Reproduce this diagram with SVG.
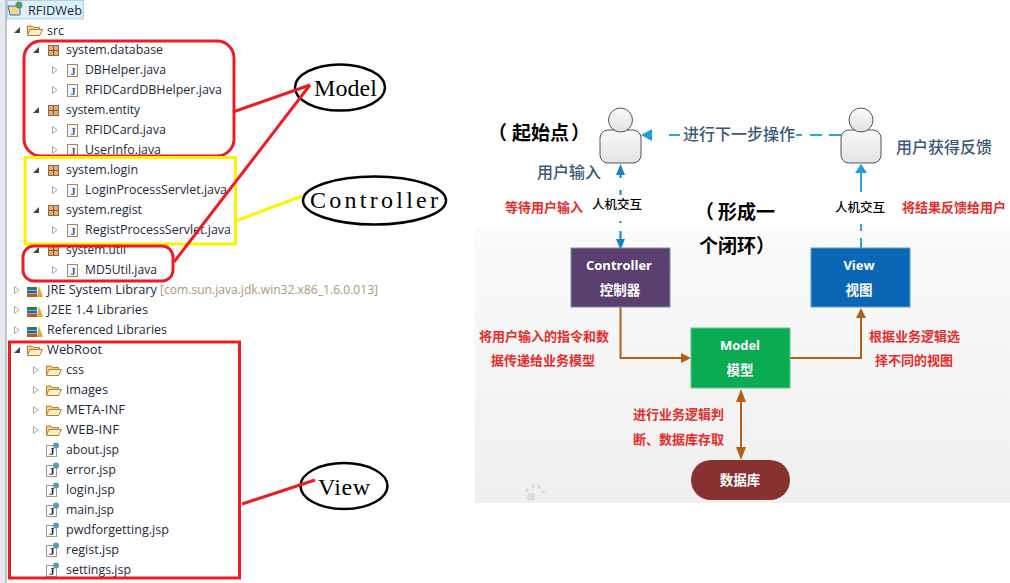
<svg xmlns="http://www.w3.org/2000/svg" xmlns:xlink="http://www.w3.org/1999/xlink" width="1010" height="583" viewBox="0 0 1010 583">
<style>
.t{font:13px "Open Sans","Liberation Sans","Noto Sans",sans-serif;fill:#1d2b3a}
.g{font:13px "Open Sans","Liberation Sans",sans-serif;fill:#a89a78}
.m{font:24px "Liberation Serif",serif;fill:#000}
.r{font:bold 13px "Noto Sans CJK SC",sans-serif;fill:#e62b2b}
.b{font:16px "Noto Sans CJK SC",sans-serif;fill:#3b5877;font-weight:500}
.k{font:bold 19px "Noto Sans CJK SC",sans-serif;fill:#000}
.h{font:12.5px "Noto Sans CJK SC",sans-serif;fill:#000;font-weight:500}
.w{font:bold 13.5px "Noto Sans CJK SC",sans-serif;fill:#fff;text-anchor:middle}
.e{font:bold 13px "Open Sans","Liberation Sans",sans-serif;fill:#fff;text-anchor:middle}
.rl{fill:none;stroke:#ed1c24;stroke-width:3}
.yl{fill:none;stroke:#fff200;stroke-width:3}
.ell{fill:#fff;stroke:#000;stroke-width:2.5}
.br{fill:none;stroke:#b45f17;stroke-width:2}
.cy{fill:none;stroke:#2fa6d9;stroke-width:2}
.bl{fill:none;stroke:#1583c2;stroke-width:2}
.arrT{fill:#444;stroke:none}
.arrO{fill:#fff;stroke:#a8a8a8;stroke-width:1}
.pk{fill:#dcae7e;stroke:#9a6a3c;stroke-width:1}
.pkl{stroke:#8a5a2c;stroke-width:1}
.fb{fill:#f3cf8a;stroke:#b5802f;stroke-width:1}
.ff{fill:#fdf0c8;stroke:#b5802f;stroke-width:1}
.jf{fill:#f4f6fb;stroke:#a58a55;stroke-width:1}
.jt{font:bold 10px "Liberation Serif",serif;fill:#2a5aa0}
.person{fill:url(#pg);stroke:#555;stroke-width:1}
</style>
<defs>
<linearGradient id="pg" x1="0" y1="0" x2="0" y2="1"><stop offset="0" stop-color="#fafafa"/><stop offset="1" stop-color="#e2e2e2"/></linearGradient>
<linearGradient id="bg" x1="0" y1="0" x2="0" y2="1"><stop offset="0" stop-color="#fbfbfb"/><stop offset="1" stop-color="#efefef"/></linearGradient>
<g id="pkg"><rect x="0.500" y="0.500" width="10" height="10" class="pk"/><path d="M5.500 0.500V10.500M0.500 5.500H10.500" class="pkl"/></g>
<g id="jv"><rect x="0.500" y="0.500" width="10" height="12" class="jf"/><text x="3.500" y="10.500" class="jt">J</text></g>
<path id="opn" d="M0.500 0.500L5 4L0.500 7.500Z" class="arrO"/>
<path id="cls" d="M6 0V6H0Z" class="arrT"/>
<g id="fld"><path d="M0.500 10V2H5L6.500 3.500H12.500V10Z" class="fb"/><path d="M0.500 11.500L3 5.500H15.500L12.500 11.500Z" class="ff"/></g>
<g id="jsp"><rect x="0.500" y="3.500" width="10" height="11" fill="#fff" stroke="#a09a80"/><text x="3" y="13" font-family="Liberation Serif" font-weight="bold" font-size="11" fill="#1d2b50">J</text><circle cx="10" cy="3.500" r="3" fill="#5a9ab0"/></g>
<g id="lib"><rect x="0" y="4" width="10" height="3" fill="#2d7d4f"/><rect x="0" y="7.500" width="10" height="3" fill="#2a5aa0"/><rect x="0" y="11" width="10" height="3" fill="#c0591f"/><path d="M10 14L12 3L16 14Z" fill="#e5a83a"/></g>
</defs>

<g id="tree">
<rect x="0" y="0" width="5" height="583" fill="#e6eaef"/>
<rect x="5" y="0" width="2" height="583" fill="#bcc6d2"/>
<rect x="7.500" y="0.500" width="76" height="18.500" fill="#dcf0f9" stroke="#aed2e4"/>
<path d="M8 6H18L20 8V15H10Z" fill="#f4d68a" stroke="#3f6fa8"/>
<circle cx="19" cy="5" r="3.500" fill="#5a9a6a"/>
<text x="28" y="15" class="t" textLength="54" lengthAdjust="spacingAndGlyphs">RFIDWeb</text>
<use xlink:href="#cls" x="14" y="27"/><use xlink:href="#fld" x="27" y="24"/><text x="47" y="35" class="t" textLength="17" lengthAdjust="spacingAndGlyphs">src</text>

<use xlink:href="#cls" x="33" y="47"/><use xlink:href="#pkg" x="48" y="45"/><text x="66" y="54" class="t" textLength="97" lengthAdjust="spacingAndGlyphs">system.database</text>
<use xlink:href="#opn" x="52" y="66"/><use xlink:href="#jv" x="67" y="64"/><text x="85" y="74" class="t" textLength="81" lengthAdjust="spacingAndGlyphs">DBHelper.java</text>
<use xlink:href="#opn" x="52" y="86"/><use xlink:href="#jv" x="67" y="84"/><text x="85" y="94" class="t" textLength="137" lengthAdjust="spacingAndGlyphs">RFIDCardDBHelper.java</text>
<use xlink:href="#cls" x="33" y="107"/><use xlink:href="#pkg" x="48" y="105"/><text x="66" y="114" class="t" textLength="74" lengthAdjust="spacingAndGlyphs">system.entity</text>
<use xlink:href="#opn" x="52" y="126"/><use xlink:href="#jv" x="67" y="124"/><text x="85" y="134" class="t" textLength="81" lengthAdjust="spacingAndGlyphs">RFIDCard.java</text>
<use xlink:href="#opn" x="52" y="146"/><use xlink:href="#jv" x="67" y="144"/><text x="85" y="154" class="t" textLength="76" lengthAdjust="spacingAndGlyphs">UserInfo.java</text>
<use xlink:href="#cls" x="33" y="167"/><use xlink:href="#pkg" x="48" y="165"/><text x="66" y="174" class="t" textLength="72" lengthAdjust="spacingAndGlyphs">system.login</text>
<use xlink:href="#opn" x="52" y="186"/><use xlink:href="#jv" x="67" y="184"/><text x="85" y="194" class="t" textLength="142" lengthAdjust="spacingAndGlyphs">LoginProcessServlet.java</text>
<use xlink:href="#cls" x="33" y="207"/><use xlink:href="#pkg" x="48" y="205"/><text x="66" y="214" class="t" textLength="76" lengthAdjust="spacingAndGlyphs">system.regist</text>
<use xlink:href="#opn" x="52" y="226"/><use xlink:href="#jv" x="67" y="224"/><text x="85" y="234" class="t" textLength="146" lengthAdjust="spacingAndGlyphs">RegistProcessServlet.java</text>
<use xlink:href="#cls" x="33" y="247"/><use xlink:href="#pkg" x="48" y="245"/><text x="66" y="254" class="t" textLength="60" lengthAdjust="spacingAndGlyphs">system.util</text>
<use xlink:href="#opn" x="52" y="266"/><use xlink:href="#jv" x="67" y="264"/><text x="85" y="274" class="t" textLength="72" lengthAdjust="spacingAndGlyphs">MD5Util.java</text>
<use xlink:href="#opn" x="14" y="286"/><use xlink:href="#lib" x="27" y="283"/><text x="47" y="294" class="t" textLength="110" lengthAdjust="spacingAndGlyphs">JRE System Library</text><text x="160" y="294" class="g" textLength="218" lengthAdjust="spacingAndGlyphs">[com.sun.java.jdk.win32.x86_1.6.0.013]</text>
<use xlink:href="#opn" x="14" y="306"/><use xlink:href="#lib" x="27" y="303"/><text x="47" y="314" class="t" textLength="101" lengthAdjust="spacingAndGlyphs">J2EE 1.4 Libraries</text>
<use xlink:href="#opn" x="14" y="326"/><use xlink:href="#lib" x="27" y="323"/><text x="47" y="334" class="t" textLength="120" lengthAdjust="spacingAndGlyphs">Referenced Libraries</text>
<use xlink:href="#cls" x="14" y="347"/><use xlink:href="#fld" x="27" y="344"/><text x="47" y="354" class="t" textLength="55" lengthAdjust="spacingAndGlyphs">WebRoot</text>
<use xlink:href="#opn" x="33" y="366"/><use xlink:href="#fld" x="46" y="364"/><text x="66" y="374" class="t" textLength="18" lengthAdjust="spacingAndGlyphs">css</text>
<use xlink:href="#opn" x="33" y="386"/><use xlink:href="#fld" x="46" y="384"/><text x="66" y="394" class="t" textLength="42" lengthAdjust="spacingAndGlyphs">images</text>
<use xlink:href="#opn" x="33" y="406"/><use xlink:href="#fld" x="46" y="404"/><text x="66" y="414" class="t" textLength="59" lengthAdjust="spacingAndGlyphs">META-INF</text>
<use xlink:href="#opn" x="33" y="426"/><use xlink:href="#fld" x="46" y="424"/><text x="66" y="434" class="t" textLength="53" lengthAdjust="spacingAndGlyphs">WEB-INF</text>
<use xlink:href="#jsp" x="46" y="442"/><text x="66" y="454" class="t" textLength="53" lengthAdjust="spacingAndGlyphs">about.jsp</text>
<use xlink:href="#jsp" x="46" y="462"/><text x="66" y="474" class="t" textLength="50" lengthAdjust="spacingAndGlyphs">error.jsp</text>
<use xlink:href="#jsp" x="46" y="482"/><text x="66" y="494" class="t" textLength="49" lengthAdjust="spacingAndGlyphs">login.jsp</text>
<use xlink:href="#jsp" x="46" y="502"/><text x="66" y="514" class="t" textLength="48" lengthAdjust="spacingAndGlyphs">main.jsp</text>
<use xlink:href="#jsp" x="46" y="522"/><text x="66" y="534" class="t" textLength="103" lengthAdjust="spacingAndGlyphs">pwdforgetting.jsp</text>
<use xlink:href="#jsp" x="46" y="542"/><text x="66" y="554" class="t" textLength="53" lengthAdjust="spacingAndGlyphs">regist.jsp</text>
<use xlink:href="#jsp" x="46" y="562"/><text x="66" y="574" class="t" textLength="65" lengthAdjust="spacingAndGlyphs">settings.jsp</text>
</g>

<g id="highlights">
<rect x="24" y="41" width="210" height="115" rx="17" class="rl"/>
<rect x="25" y="157.500" width="210.500" height="86.500" class="yl"/>
<rect x="23" y="246" width="150" height="35" rx="11" class="rl"/>
<rect x="9.500" y="342" width="230" height="236" class="rl"/>
</g>

<g id="model"><ellipse cx="340" cy="87.500" rx="45" ry="23" class="ell"/><text x="314" y="96" class="m" textLength="63">Model</text></g>
<g id="controller"><ellipse cx="374.500" cy="200.500" rx="71.500" ry="24" class="ell"/><text x="310" y="208" class="m" textLength="128">Controller</text></g>
<g id="view"><ellipse cx="344" cy="486" rx="43.500" ry="23" class="ell"/><text x="318" y="495" class="m" textLength="52">View</text></g>

<g id="connectors">
<path d="M233 112L310 85" class="rl"/>
<path d="M174 262L310 85" class="rl"/>
<path d="M236 221L302 196" class="yl"/>
<path d="M242 504L315 480" class="rl"/>
</g>

<g id="mvc-bg"><rect x="475" y="228" width="535" height="275" fill="url(#bg)"/>
<g fill="#dcdcdc"><circle cx="531" cy="497" r="4"/><circle cx="527" cy="490" r="2"/><circle cx="533" cy="486" r="2"/><circle cx="539" cy="487" r="2"/><circle cx="543" cy="492" r="2"/></g></g>

<g id="user-left"><rect x="600" y="130" width="41" height="33" rx="8" class="person"/><circle cx="620.500" cy="120" r="12" class="person"/></g>
<g id="user-right"><rect x="841" y="130" width="40" height="33" rx="8" class="person"/><circle cx="861" cy="120" r="12" class="person"/></g>

<g id="mvc-connectors">
<path d="M669 135H680M796 135H802M810 135H822M829 135H841" class="cy"/>
<path d="M641 135L652 129V141Z" fill="#1f9fd6"/>
<path d="M620.500 172V178M620.500 190V195M620.500 221V223M620.500 231V240" class="bl"/>
<path d="M620.500 164L616 175H625Z" fill="#1583c2"/><path d="M620.500 250L616 239H625Z" fill="#1583c2"/>
<path d="M861 248V238M861 231V224M861 192V172" class="cy"/>
<path d="M861 164L855 173H867Z" fill="#1f9fd6"/>
<path d="M620.500 307V358H685" class="br"/><path d="M691 358L681 353V363Z" fill="#b45f17"/>
<path d="M790 358H861V315" class="br"/><path d="M861 308L856 318H866Z" fill="#b45f17"/>
<path d="M741 395V456" class="br"/><path d="M741 389L736 402H746Z" fill="#b45f17"/><path d="M741 460L736 447H746Z" fill="#b45f17"/>
</g>

<g id="controller-box"><rect x="571" y="248" width="99" height="59" fill="#5a3f6f" stroke="#7a90a5"/><text x="619" y="270" class="e">Controller</text><text x="620" y="295" class="w">控制器</text></g>
<g id="view-box"><rect x="811" y="248" width="99" height="59" fill="#0b66b5" stroke="#5aa0d0"/><text x="859" y="270" class="e">View</text><text x="859" y="295" class="w">视图</text></g>
<g id="model-box"><rect x="691" y="328" width="99" height="60" fill="#0bab54" stroke="#60c890"/><text x="740" y="350" class="e">Model</text><text x="740" y="375" class="w">模型</text></g>
<g id="db"><rect x="691" y="460" width="99" height="40" rx="20" fill="#873131"/><text x="740" y="485" class="w">数据库</text></g>

<g id="mvc-text">
<text x="488" y="140" class="k">（</text><text x="512" y="140" class="k">起始点</text><text x="571" y="140" class="k">）</text>
<text x="683" y="140" class="b">进行下一步操作</text>
<text x="537" y="178" class="b">用户输入</text>
<text x="896" y="153" class="b">用户获得反馈</text>
<text x="505" y="212" class="r">等待用户输入</text>
<text x="592" y="209" class="h">人机交互</text>
<text x="835" y="212" class="h">人机交互</text>
<text x="902" y="212" class="r">将结果反馈给用户</text>
<text x="695" y="219" class="k">（</text><text x="718" y="219" class="k">形成一</text>
<text x="699" y="253" class="k">个闭环</text><text x="756" y="253" class="k">）</text>
<text x="479" y="341" class="r">将用户输入的指令和数</text>
<text x="491" y="365" class="r">据传递给业务模型</text>
<text x="869" y="341" class="r">根据业务逻辑选</text>
<text x="875" y="365" class="r">择不同的视图</text>
<text x="633" y="419" class="r">进行业务逻辑判</text>
<text x="633" y="444" class="r">断、数据库存取</text>
</g>
</svg>
